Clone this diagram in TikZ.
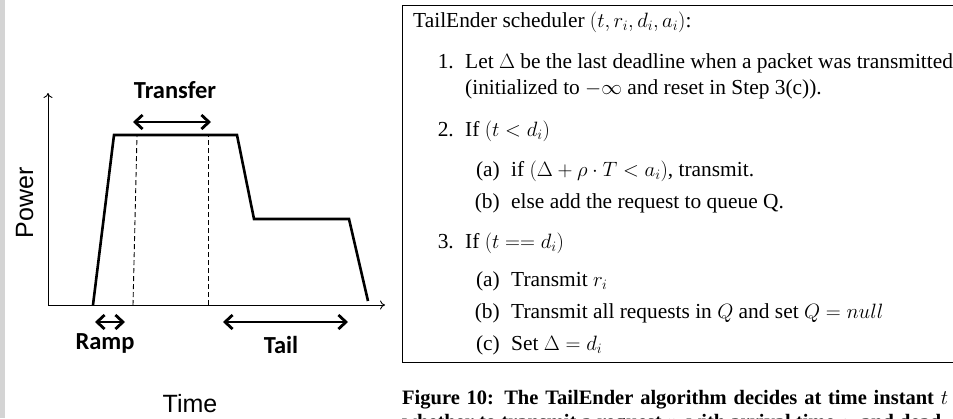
\documentclass[tikz,border=0pt]{standalone}
\usepackage{fontspec}
\setmainfont{Liberation Serif}
\newfontfamily\plotsans{Liberation Sans}
\newfontfamily\plottag{Carlito}
\usetikzlibrary{arrows.meta}

\begin{document}
\begin{tikzpicture}[x=1pt,y=-1pt,
	line/.style={anchor=base west,inner sep=0pt,font=\fontsize{21.4}{25}\selectfont},
	num/.style={anchor=base east,inner sep=0pt,font=\fontsize{21.4}{25}\selectfont},
	axis/.style={line width=0.9pt,-{To[length=5pt,width=9pt]}},
	curve/.style={line width=2.6pt,line join=miter},
	span/.style={line width=2.8pt,{Straight Barb[length=7.5pt,width=14pt]}-{Straight Barb[length=7.5pt,width=14pt]}},
	tag/.style={anchor=base,inner sep=0pt,font=\plottag\bfseries\fontsize{24.5}{28}\selectfont},
	axlabel/.style={anchor=base,inner sep=0pt,font=\plotsans\fontsize{25}{30}\selectfont}]
	\useasboundingbox (0,0) rectangle (953,418);
	\fill[black!17] (0,0) rectangle (5,418);

	% power plot
	\coordinate (o) at (48,305);
	\coordinate (ytop) at (48,93);
	\coordinate (xend) at (385,305);
	\draw[axis] (o) -- (ytop);
	\draw[axis] (o) -- (xend);
	\draw[curve] (93,305) -- (114,135) -- (237,135) -- (254,219) -- (349,219) -- (368,301);
	\draw[line width=0.9pt,dash pattern=on 5pt off 3pt] (133,305) -- (137,135);
	\draw[line width=0.9pt,dash pattern=on 5pt off 3pt] (208,305) -- (208,135);

	\coordinate (tfa) at (133,122);
	\coordinate (tfb) at (211,122);
	\coordinate (rpa) at (95,322);
	\coordinate (rpb) at (125,322);
	\coordinate (tla) at (223,322);
	\coordinate (tlb) at (348,322);
	\draw[span] (tfa) -- (tfb);
	\draw[span] (rpa) -- (rpb);
	\draw[span] (tla) -- (tlb);

	\node[tag] (transfer) at (175,98) {Transfer};
	\node[tag] (ramp) at (105,349) {Ramp};
	\node[tag] (tail) at (281,353) {Tail};
	\node[axlabel,rotate=90] (power) at (33,203) {Power};
	\node[axlabel] (time) at (190,412) {Time};

	% scheduler box
	\draw[line width=0.9pt] (402,5) rectangle (1000,362);
	\node[line] (head) at (413,27) {TailEnder scheduler $(t, r_i, d_i, a_i)$:};
	\node[num] (n1) at (454,68) {1.};
	\node[line] (s1) at (465,68) {Let $\Delta$ be the last deadline when a packet was transmitted};
	\node[line] (s1b) at (465,94) {(initialized to $-\infty$ and reset in Step 3(c)).};
	\node[num] (n2) at (454,136) {2.};
	\node[line] (s2) at (465,136) {If $(t < d_i)$};
	\node[num] (n2a) at (500,176) {(a)};
	\node[line] (s2a) at (511,176) {if $(\Delta + \rho \cdot T < a_i)$, transmit.};
	\node[num] (n2b) at (500,208) {(b)};
	\node[line] (s2b) at (511,208) {else add the request to queue Q.};
	\node[num] (n3) at (454,248) {3.};
	\node[line] (s3) at (465,248) {If $(t == d_i)$};
	\node[num] (n3a) at (500,286) {(a)};
	\node[line] (s3a) at (511,286) {Transmit $r_i$};
	\node[num] (n3b) at (500,318) {(b)};
	\node[line] (s3b) at (511,318) {Transmit all requests in $Q$ and set $Q = null$};
	\node[num] (n3c) at (500,350) {(c)};
	\node[line] (s3c) at (511,350) {Set $\Delta = d_i$};

	% caption
	\node[line,font=\bfseries\fontsize{20.5}{24}\selectfont] (cap1) at (402,404)
		{\makebox[546pt][s]{Figure 10: The TailEnder algorithm decides at time instant $t$}};
	\node[line,font=\bfseries\fontsize{20.5}{24}\selectfont] (cap2) at (402,428)
		{\makebox[546pt][s]{whether to transmit a request $r_i$ with arrival time $a_i$ and dead-}};
\end{tikzpicture}
\end{document}
